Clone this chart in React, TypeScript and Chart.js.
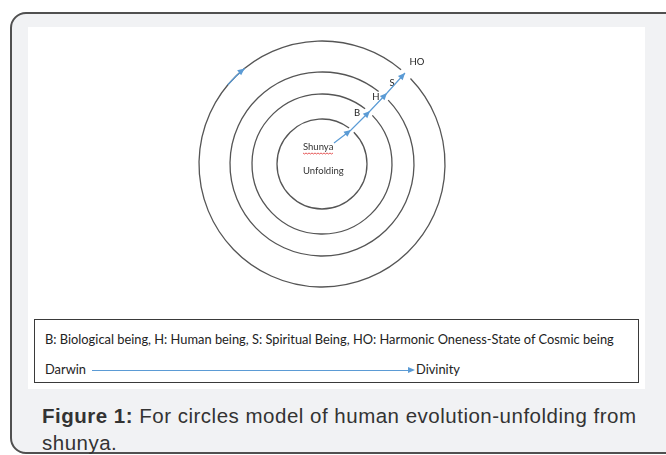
import React, { useEffect, useRef } from "react";
import { Chart, registerables } from "chart.js";
Chart.register(...registerables);

// ---- data ----
const ringRadii = [45, 70, 92, 123];
const ringGapStart = [45, 44, 44, 44]; // degrees (math, ccw from +x)
const ringGapEnd = [53, 52, 52, 50];
const pathX = [12, 29, 48, 65, 83];
const pathY = [21, 34, 53, 71, 91];
const orbitArrowFrom = 140; // degrees on the outer ring
const orbitArrowTo = 129;
const stageLabels = ["B", "H", "S", "HO"];
const stageLabelX = [35, 54, 70, 95];
const stageLabelY = [51, 67, 81, 102];
const centerLabels = ["Shunya", "Unfolding"];
const centerLabelX = [-19, -19];
const centerLabelY = [17, -7];
const legendLine = "B: Biological being, H: Human being, S: Spiritual Being, HO: Harmonic Oneness-State of Cosmic being";
const scaleFrom = "Darwin";
const scaleTo = "Divinity";
const captionBold = "Figure 1:";
const captionLine1 = " For circles model of human evolution-unfolding from";
const captionLine2 = "shunya.";

const xMin = -294, xMax = 323, yMin = -150, yMax = 137;

const BLUE = "#5b9bd5";
const RING = "#555555";

function head(ctx: CanvasRenderingContext2D, x: number, y: number, dx: number, dy: number) {
  const len = Math.hypot(dx, dy) || 1;
  const ux = dx / len, uy = dy / len;
  const L = 7, W = 3.2;
  ctx.beginPath();
  ctx.moveTo(x, y);
  ctx.lineTo(x - ux * L - uy * W, y - uy * L + ux * W);
  ctx.lineTo(x - ux * L + uy * W, y - uy * L - ux * W);
  ctx.closePath();
  ctx.fillStyle = BLUE;
  ctx.fill();
}

const ringsPlugin = {
  id: "rings",
  beforeDatasetsDraw(chart: any) {
    const { ctx, scales } = chart;
    const sx = scales.x, sy = scales.y;
    const cx = sx.getPixelForValue(0), cy = sy.getPixelForValue(0);
    const rad = Math.PI / 180;
    ctx.save();
    ringRadii.forEach((r, i) => {
      const rx = Math.abs(sx.getPixelForValue(r) - cx);
      const ry = Math.abs(sy.getPixelForValue(r) - cy);
      ctx.beginPath();
      ctx.ellipse(cx, cy, rx, ry, 0, -ringGapStart[i] * rad, -ringGapEnd[i] * rad, false);
      ctx.strokeStyle = RING;
      ctx.lineWidth = 1.3;
      ctx.stroke();
    });
    // blue orbit arrow on outer ring
    const R = ringRadii[ringRadii.length - 1];
    const rx = Math.abs(sx.getPixelForValue(R) - cx);
    const ry = Math.abs(sy.getPixelForValue(R) - cy);
    ctx.beginPath();
    ctx.ellipse(cx, cy, rx, ry, 0, -orbitArrowFrom * rad, -orbitArrowTo * rad, false);
    ctx.strokeStyle = BLUE;
    ctx.lineWidth = 1.3;
    ctx.stroke();
    const phi = -orbitArrowTo * rad;
    head(ctx, cx + rx * Math.cos(phi), cy + ry * Math.sin(phi), -rx * Math.sin(phi), ry * Math.cos(phi));

    // labels
    ctx.textBaseline = "middle";
    ctx.textAlign = "center";
    ctx.fillStyle = "#222";
    ctx.font = "9.5px Lato, 'Open Sans', sans-serif";
    stageLabels.forEach((t, i) => {
      ctx.fillText(t, sx.getPixelForValue(stageLabelX[i]), sy.getPixelForValue(stageLabelY[i]));
    });
    ctx.textAlign = "left";
    ctx.fillStyle = "#333";
    ctx.font = "9.5px Lato, 'Open Sans', sans-serif";
    centerLabels.forEach((t, i) => {
      ctx.fillText(t, sx.getPixelForValue(centerLabelX[i]), sy.getPixelForValue(centerLabelY[i]));
    });
    // spell-check squiggle under first center label
    const x0 = sx.getPixelForValue(centerLabelX[0]);
    const w = ctx.measureText(centerLabels[0]).width;
    const yq = sy.getPixelForValue(centerLabelY[0]) + 6;
    ctx.beginPath();
    for (let k = 0; k <= Math.round(w / 1.5); k++) {
      const px = x0 + k * 1.5;
      const py = yq + (k % 2 === 0 ? 0 : 1);
      if (k === 0) ctx.moveTo(px, py); else ctx.lineTo(px, py);
    }
    ctx.strokeStyle = "#e03030";
    ctx.lineWidth = 0.8;
    ctx.stroke();
    ctx.restore();
  },
  afterDatasetsDraw(chart: any) {
    const { ctx, scales } = chart;
    const sx = scales.x, sy = scales.y;
    ctx.save();
    for (let i = 1; i < pathX.length; i++) {
      const x1 = sx.getPixelForValue(pathX[i - 1]), y1 = sy.getPixelForValue(pathY[i - 1]);
      const x2 = sx.getPixelForValue(pathX[i]), y2 = sy.getPixelForValue(pathY[i]);
      head(ctx, x2, y2, x2 - x1, y2 - y1);
    }
    ctx.restore();
  },
};

function Diagram() {
  const ref = useRef<HTMLCanvasElement | null>(null);
  useEffect(() => {
    if (!ref.current) return;
    const chart = new Chart(ref.current, {
      type: "scatter",
      data: {
        datasets: [
          {
            data: pathX.map((x, i) => ({ x, y: pathY[i] })),
            showLine: true,
            borderColor: BLUE,
            borderWidth: 1.2,
            pointRadius: 0,
            fill: false,
          },
        ],
      },
      options: {
        responsive: false,
        animation: false,
        layout: { padding: 0 },
        plugins: { legend: { display: false }, tooltip: { enabled: false } },
        scales: {
          x: { type: "linear", min: xMin, max: xMax, display: false },
          y: { type: "linear", min: yMin, max: yMax, display: false },
        },
      },
      plugins: [ringsPlugin],
    });
    return () => chart.destroy();
  }, []);
  return <canvas ref={ref} width={617} height={287} style={{ position: "absolute", left: 0, top: 0, width: 617, height: 287 }} />;
}

export default function App() {
  const legendFont = "Lato, 'Open Sans', sans-serif";
  return (
    <div style={{ position: "absolute", left: 0, top: 0, width: 666, height: 455, overflow: "hidden", background: "#ffffff" }}>
      <div
        style={{
          position: "absolute", left: 10, top: 12, width: 672, height: 442,
          border: "2px solid #505050", borderRadius: 16, background: "#f1f2f4", boxSizing: "border-box",
        }}
      />
      <div style={{ position: "absolute", left: 28, top: 27, width: 617, height: 362, background: "#ffffff" }}>
        <Diagram />
        <div
          style={{
            position: "absolute", left: 6, top: 292, width: 605, height: 64,
            border: "1.5px solid #3a3a3a", boxSizing: "border-box", fontFamily: legendFont, fontSize: 12.85, color: "#222",
          }}
        >
          <div style={{ position: "absolute", left: 10, top: 11, whiteSpace: "nowrap", lineHeight: "16px" }}>{legendLine}</div>
          <div style={{ position: "absolute", left: 10, top: 41, whiteSpace: "nowrap", lineHeight: "16px" }}>{scaleFrom}</div>
          <div style={{ position: "absolute", left: 57, top: 49.5, width: 317, height: 1.2, background: BLUE }} />
          <div
            style={{
              position: "absolute", left: 373, top: 46.5, width: 0, height: 0,
              borderTop: "3.5px solid transparent", borderBottom: "3.5px solid transparent", borderLeft: "7px solid " + BLUE,
            }}
          />
          <div style={{ position: "absolute", left: 381, top: 41, whiteSpace: "nowrap", lineHeight: "16px" }}>{scaleTo}</div>
        </div>
      </div>
      <div
        style={{
          position: "absolute", left: 42, top: 402, fontFamily: "'Liberation Sans', Arial, sans-serif",
          fontSize: 20.5, letterSpacing: 0.5, lineHeight: "27px", color: "#333", whiteSpace: "nowrap",
        }}
      >
        <b>{captionBold}</b>{captionLine1}
        <br />
        {captionLine2}
      </div>
    </div>
  );
}
